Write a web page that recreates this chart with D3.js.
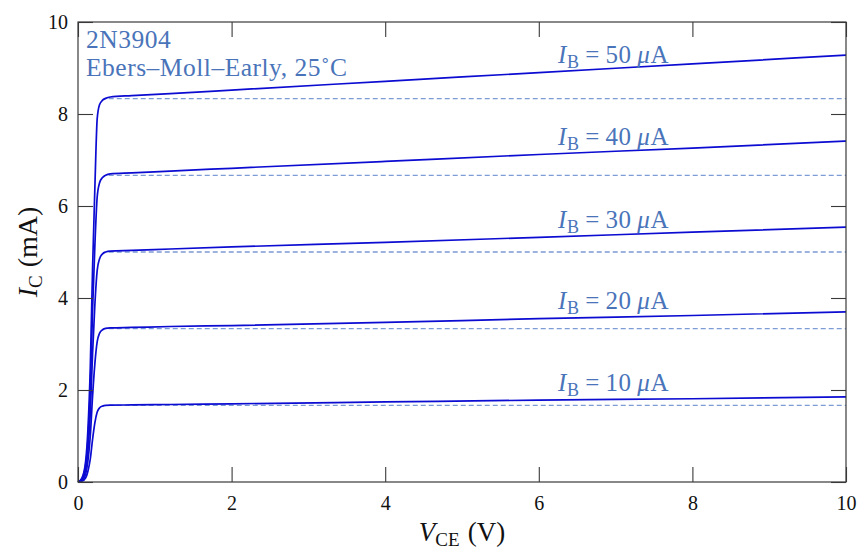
<!DOCTYPE html>
<html><head><meta charset="utf-8">
<script src="https://cdn.jsdelivr.net/npm/d3@7"></script>
<style>
html,body{margin:0;padding:0;background:#fff;}
svg{display:block;font-family:"Liberation Serif","DejaVu Serif",serif;}
</style></head>
<body>
<svg id="chart" width="857" height="550"></svg>
<script>
// ---- data ----
const baseCurrents = [10, 20, 30, 40, 50]; // µA
const vce = [0, 0.05, 0.1, 0.13, 0.16, 0.19, 0.22, 0.25, 0.28, 0.32, 0.36, 0.42, 0.7, 1.2, 2, 4, 6, 8, 10];
const ic10 = [0, 0.015, 0.09, 0.24, 0.5, 0.93, 1.29, 1.52, 1.61, 1.65, 1.665, 1.67, 1.675, 1.685, 1.70, 1.74, 1.78, 1.81, 1.85];
const ic20 = [0, 0.03, 0.18, 0.47, 1.0, 1.87, 2.58, 3.05, 3.23, 3.31, 3.34, 3.35, 3.36, 3.38, 3.40, 3.47, 3.55, 3.62, 3.70];
const ic30 = [0, 0.05, 0.28, 0.7, 1.5, 2.8, 3.87, 4.6, 4.85, 4.96, 5.0, 5.02, 5.035, 5.065, 5.11, 5.21, 5.32, 5.43, 5.54];
const ic40 = [0, 0.07, 0.37, 0.94, 2.0, 3.75, 5.15, 6.2, 6.5, 6.62, 6.67, 6.70, 6.72, 6.76, 6.82, 6.97, 7.12, 7.26, 7.41];
const ic50 = [0, 0.08, 0.46, 1.17, 2.5, 4.67, 6.42, 7.9, 8.2, 8.3, 8.34, 8.37, 8.40, 8.445, 8.52, 8.71, 8.90, 9.09, 9.28];
const icCurves = [ic10, ic20, ic30, ic40, ic50];
const icIdeal = [1.667, 3.333, 5.0, 6.667, 8.333]; // beta*IB, dashed
const idealStart = 0.4;
const xTicks = [0, 2, 4, 6, 8, 10];
const yTicks = [0, 2, 4, 6, 8, 10];
const labelX = 6.25;

// ---- layout ----
const svg = d3.select("#chart");
const L = 78, R = 846, T = 22, B = 482;
const x = d3.scaleLinear().domain([0, 10]).range([L, R]);
const y = d3.scaleLinear().domain([0, 10]).range([B, T]);

const frameColor = "#3a3a3a";
const curveColor = "#0b0bd2";
const dashColor = "#7d9bd4";
const textColor = "#4a74ba";

// dashed ideal lines
svg.append("g").selectAll("line").data(icIdeal).join("line")
  .attr("x1", x(idealStart)).attr("x2", x(10))
  .attr("y1", d => y(d)).attr("y2", d => y(d))
  .attr("stroke", dashColor).attr("stroke-width", 1.3)
  .attr("stroke-dasharray", "5,3");

// curves
const line = d3.line().x(d => x(d[0])).y(d => y(d[1])).curve(d3.curveMonotoneX);
svg.append("g").selectAll("path").data(icCurves).join("path")
  .attr("d", c => line(vce.map((v, i) => [v, c[i]])))
  .attr("fill", "none").attr("stroke", curveColor).attr("stroke-width", 1.7);

// axes (ticks inside, mirrored)
const tk = 15;
const axB = svg.append("g").attr("transform", `translate(0,${B})`)
  .call(d3.axisBottom(x).tickValues(xTicks).tickSizeInner(-tk).tickSizeOuter(0).tickPadding(14));
const axT = svg.append("g").attr("transform", `translate(0,${T})`)
  .call(d3.axisTop(x).tickValues(xTicks).tickSizeInner(-tk).tickSizeOuter(0).tickFormat(""));
const axL = svg.append("g").attr("transform", `translate(${L},0)`)
  .call(d3.axisLeft(y).tickValues(yTicks).tickSizeInner(-tk).tickSizeOuter(0).tickPadding(10));
const axR = svg.append("g").attr("transform", `translate(${R},0)`)
  .call(d3.axisRight(y).tickValues(yTicks).tickSizeInner(-tk).tickSizeOuter(0).tickFormat(""));
[axB, axT, axL, axR].forEach(a => {
  a.select(".domain").remove();
  a.selectAll("line").attr("stroke", frameColor).attr("stroke-width", 1.1);
  a.selectAll("text").attr("fill", "#111").style("font-family", '"Liberation Serif",serif').style("font-size", "20px");
});
axB.selectAll("text").attr("dy", "0.71em");
svg.append("rect").attr("x", L).attr("y", T).attr("width", R - L).attr("height", B - T)
  .attr("fill", "none").attr("stroke", frameColor).attr("stroke-width", 1.2);

// annotation
const ann = svg.append("text").attr("fill", textColor).style("font-size", "25.5px").style("letter-spacing", "0.5px");
ann.append("tspan").attr("x", 86).attr("y", 48).text("2N3904");
ann.append("tspan").attr("x", 86).attr("y", 76).text("Ebers–Moll–Early, 25˚C");

// I_B labels
icCurves.forEach((c, k) => {
  const i = d3.bisectLeft(vce, labelX);
  const t = (labelX - vce[i - 1]) / (vce[i] - vce[i - 1]);
  const v = c[i - 1] + t * (c[i] - c[i - 1]);
  const txt = svg.append("text").attr("x", x(labelX)).attr("y", y(v) - 9)
    .attr("fill", textColor).style("font-size", "25px").style("letter-spacing", "0.6px");
  txt.append("tspan").style("font-style", "italic").text("I");
  txt.append("tspan").attr("dy", 5).style("font-size", "18px").text("B");
  txt.append("tspan").attr("dy", -5).text("\u2009=\u2009" + baseCurrents[k] + "\u2009");
  txt.append("tspan").style("font-style", "italic").text("μ");
  txt.append("tspan").text("A");
});

// axis titles
const xt = svg.append("text").attr("x", x(5)).attr("y", 541).attr("text-anchor", "middle")
  .attr("fill", "#111").style("font-size", "27px");
xt.append("tspan").style("font-style", "italic").text("V");
xt.append("tspan").attr("dy", 5).style("font-size", "19px").text("CE");
xt.append("tspan").attr("dy", -5).attr("dx", 8).text("(V)");

const yt = svg.append("text").attr("transform", `translate(37,${(T + B) / 2}) rotate(-90)`)
  .attr("text-anchor", "middle").attr("fill", "#111").style("font-size", "28px");
yt.append("tspan").style("font-style", "italic").text("I");
yt.append("tspan").attr("dy", 5).style("font-size", "19px").text("C");
yt.append("tspan").attr("dy", -5).attr("dx", 8).text("(mA)");
</script>
</body></html>
